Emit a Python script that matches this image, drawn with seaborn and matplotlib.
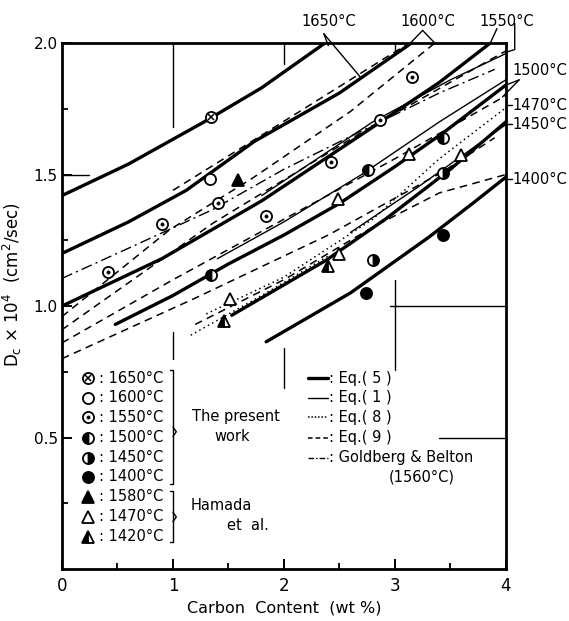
import matplotlib
matplotlib.use("Agg")
import matplotlib.pyplot as plt
import seaborn as sns

# ---------------- data ----------------
# Eq.(5) thick solid curves
eq5_1650_x = [0.0, 0.6, 1.28, 1.8, 2.37]
eq5_1650_y = [1.42, 1.54, 1.70, 1.83, 2.0]
eq5_1600_x = [0.0, 0.6, 1.12, 1.73, 2.5, 3.15]
eq5_1600_y = [1.20, 1.32, 1.44, 1.625, 1.81, 2.0]
eq5_1550_x = [0.0, 0.9, 1.8, 2.8, 3.4, 3.86]
eq5_1550_y = [1.0, 1.18, 1.40, 1.68, 1.85, 2.0]
eq5_1500_x = [0.48, 1.0, 1.5, 2.0, 2.5, 3.0, 3.44, 4.0]
eq5_1500_y = [0.93, 1.04, 1.16, 1.27, 1.39, 1.53, 1.66, 1.84]
eq5_1450_x = [1.53, 2.38, 2.92, 3.5, 4.0]
eq5_1450_y = [0.965, 1.174, 1.332, 1.52, 1.70]
eq5_1400_x = [1.84, 2.6, 3.31, 3.7, 4.0]
eq5_1400_y = [0.864, 1.05, 1.263, 1.39, 1.49]

# Eq.(1) thin solid curves
eq1_1550_x = [1.8, 2.8, 3.5, 4.0]
eq1_1550_y = [1.42, 1.70, 1.86, 1.96]
eq1_1500_x = [1.4, 2.0, 2.7, 3.4, 4.0]
eq1_1500_y = [1.18, 1.32, 1.50, 1.70, 1.86]
eq1_1450_x = [2.6, 3.2, 3.7, 4.0]
eq1_1450_y = [1.28, 1.45, 1.60, 1.69]

# Eq.(8) dotted curves
eq8_1470_x = [1.3, 2.0, 2.8, 3.4, 4.0]
eq8_1470_y = [0.97, 1.11, 1.33, 1.56, 1.754]
eq8_1420_x = [1.16, 1.8, 2.4]
eq8_1420_y = [0.889, 1.04, 1.19]

# Eq.(9) dashed curves
eq9_1650_x = [1.0, 1.725, 2.9, 3.13]
eq9_1650_y = [1.44, 1.63, 1.94, 2.0]
eq9_1600_x = [0.0, 0.97, 1.73, 2.6, 3.36]
eq9_1600_y = [0.96, 1.29, 1.49, 1.74, 2.0]
eq9_1550_x = [0.0, 1.36, 2.7, 4.0]
eq9_1550_y = [0.91, 1.315, 1.66, 1.97]
eq9_1500_x = [0.0, 1.0, 2.0, 3.0, 4.0]
eq9_1500_y = [0.86, 1.10, 1.33, 1.56, 1.80]
eq9_1450_x = [0.0, 1.2, 2.4, 3.43, 3.9]
eq9_1450_y = [0.80, 1.03, 1.27, 1.51, 1.64]
eq9_1400_x = [1.2, 2.0, 2.8, 3.4, 4.0]
eq9_1400_y = [0.93, 1.10, 1.30, 1.43, 1.50]

# Goldberg & Belton (1560 C) dash-dot
gb_x = [0.0, 0.6, 1.35, 2.0, 2.72, 3.4, 3.9]
gb_y = [1.105, 1.22, 1.365, 1.52, 1.67, 1.81, 1.90]

# measured points (the present work)
p1650_x = [1.34]
p1650_y = [1.72]
p1600_x = [1.33]
p1600_y = [1.484]
p1550_x = [0.41, 0.90, 1.41, 1.84, 2.42, 2.87, 3.15]
p1550_y = [1.13, 1.313, 1.39, 1.341, 1.547, 1.709, 1.87]
p1500_x = [1.34, 2.76, 3.43]
p1500_y = [1.117, 1.516, 1.64]
p1450_x = [2.80, 3.43]
p1450_y = [1.174, 1.506]
p1400_x = [2.74, 3.43]
p1400_y = [1.05, 1.269]
# Hamada et al.
h1580_x = [1.59]
h1580_y = [1.478]
h1470_x = [1.51, 2.50, 2.49, 3.13, 3.60]
h1470_y = [1.025, 1.197, 1.408, 1.579, 1.573]
h1420_x = [1.46, 2.40]
h1420_y = [0.943, 1.151]

# labels
xtick_vals = [0, 1, 2, 3, 4]
ytick_vals = [0.5, 1.0, 1.5, 2.0]
ytick_text = ["0.5", "1.0", "1.5", "2.0"]
top_labels = ["1650°C", "1600°C", "1550°C"]
top_label_x = [2.40, 3.30, 4.01]
right_labels = ["1500°C", "1470°C", "1450°C", "1400°C"]
right_label_y = [1.896, 1.764, 1.692, 1.483]
left_legend_temps = ["1650°C", "1600°C", "1550°C", "1500°C", "1450°C", "1400°C",
                     "1580°C", "1470°C", "1420°C"]
right_legend_names = ["Eq.( 5 )", "Eq.( 1 )", "Eq.( 8 )", "Eq.( 9 )", "Goldberg & Belton"]

# ---------------- figure ----------------
sns.set_theme(style="white")
plt.rcParams["font.family"] = ["DejaVu Sans"]
plt.rcParams["mathtext.default"] = "regular"

fig = plt.figure(figsize=(5.69, 6.21), dpi=100)
ax = fig.add_axes([0.109, 0.0837, 0.780, 0.847])
ax.set_xlim(0, 4)
ax.set_ylim(0, 2)

K = "black"
THICK, THIN = 2.4, 1.0
DASH = (0, (5, 3.5))
DOT = (0, (1, 2.2))
DASHDOT = (0, (8, 3, 1.5, 3))


def curve(x, y, lw, ls):
    sns.lineplot(x=x, y=y, ax=ax, color=K, lw=lw, linestyle=ls, sort=False,
                 estimator=None, legend=False, zorder=2)


for x, y in [(eq5_1650_x, eq5_1650_y), (eq5_1600_x, eq5_1600_y),
             (eq5_1550_x, eq5_1550_y), (eq5_1500_x, eq5_1500_y),
             (eq5_1450_x, eq5_1450_y), (eq5_1400_x, eq5_1400_y)]:
    curve(x, y, THICK, "-")
for x, y in [(eq1_1550_x, eq1_1550_y), (eq1_1500_x, eq1_1500_y),
             (eq1_1450_x, eq1_1450_y)]:
    curve(x, y, THIN, "-")
for x, y in [(eq8_1470_x, eq8_1470_y), (eq8_1420_x, eq8_1420_y)]:
    curve(x, y, 1.1, DOT)
for x, y in [(eq9_1650_x, eq9_1650_y), (eq9_1600_x, eq9_1600_y),
             (eq9_1550_x, eq9_1550_y), (eq9_1500_x, eq9_1500_y),
             (eq9_1450_x, eq9_1450_y), (eq9_1400_x, eq9_1400_y)]:
    curve(x, y, 1.1, DASH)
curve(gb_x, gb_y, 1.0, DASHDOT)

# partial grid fragments of the original drawing
frag = dict(color=K, lw=1.0, zorder=1)
ax.plot([1, 1], [2.0, 1.68], **frag)
ax.plot([2, 2], [2.0, 1.92], **frag)
ax.plot([3, 3], [2.0, 1.96], **frag)
ax.plot([1, 1], [0.90, 0.80], **frag)
ax.plot([2, 2], [0.84, 0.69], **frag)
ax.plot([3, 3], [1.10, 0.755], **frag)
ax.plot([0, 0.24], [1.5, 1.5], **frag)
ax.plot([2.96, 4], [1.0, 1.0], **frag)
ax.plot([3.40, 4], [0.5, 0.5], **frag)

MS = 8
MEW = 1.3


def pts(x, y, marker, **kw):
    base = dict(ls="", marker=marker, ms=MS, mec=K, mew=MEW, zorder=6, clip_on=False)
    base.update(kw)
    ax.plot(x, y, **base)


def sym_1650(x, y):
    pts(x, y, "o", mfc="white")
    pts(x, y, "x", ms=4.2, mew=1.1)


def sym_1600(x, y):
    pts(x, y, "o", mfc="white")


def sym_1550(x, y):
    pts(x, y, "o", mfc="white")
    pts(x, y, "o", ms=2.3, mfc=K, mew=0.5, zorder=7)


def sym_1500(x, y):
    pts(x, y, "o", fillstyle="left", mfc=K, markerfacecoloralt="white")


def sym_1450(x, y):
    pts(x, y, "o", fillstyle="right", mfc=K, markerfacecoloralt="white")


def sym_1400(x, y):
    pts(x, y, "o", mfc=K)


def sym_1580(x, y):
    pts(x, y, "^", mfc=K)


def sym_1470(x, y):
    pts(x, y, "^", mfc="white")


def sym_1420(x, y):
    pts(x, y, "^", fillstyle="left", mfc=K, markerfacecoloralt="white")


sym_1650(p1650_x, p1650_y)
sym_1600(p1600_x, p1600_y)
sym_1550(p1550_x, p1550_y)
sym_1500(p1500_x, p1500_y)
sym_1450(p1450_x, p1450_y)
sym_1400(p1400_x, p1400_y)
sym_1580(h1580_x, h1580_y)
sym_1470(h1470_x, h1470_y)
sym_1420(h1420_x, h1420_y)

# ---------------- axes styling ----------------
for s in ax.spines.values():
    s.set_color(K)
    s.set_linewidth(2.0)
ax.set_xticks(xtick_vals)
ax.set_xticklabels([str(v) for v in xtick_vals], fontsize=12)
ax.set_xticks([0.5, 1.5, 2.5, 3.5], minor=True)
ax.set_yticks(ytick_vals)
ax.set_yticklabels(ytick_text, fontsize=11)
ax.set_yticks([0.25, 0.75, 1.25, 1.75], minor=True)
ax.tick_params(axis="both", which="major", direction="in", length=7, width=1.4,
               color=K, labelcolor=K, bottom=True, left=True, top=False, right=False)
ax.tick_params(axis="both", which="minor", direction="in", length=4, width=1.3,
               color=K, bottom=True, left=True, top=False, right=False)
ax.tick_params(axis="x", which="major", pad=6)
ax.tick_params(axis="y", which="major", pad=3)
ax.set_xlabel("Carbon  Content  (wt %)", fontsize=11.5, color=K, labelpad=4)
ax.set_ylabel(r"D$_c$ × 10$^4$  (cm$^2$/sec)", fontsize=12, color=K, labelpad=2)
ax.yaxis.set_label_coords(-0.085, 0.54)

# ---------------- temperature labels ----------------
TF = 10.5
for t, xx in zip(top_labels, top_label_x):
    ax.text(xx, 2.083, t, ha="center", va="center", fontsize=TF, color=K, clip_on=False)
lead = dict(color=K, lw=1.0, clip_on=False, zorder=3)
ax.plot([2.36, 2.40], [2.035, 1.99], **lead)
ax.plot([2.36, 2.69], [2.035, 1.87], **lead)
ax.plot([3.14, 3.25, 3.36], [2.0, 2.048, 2.0], **lead)
ax.plot([3.92, 3.86], [2.055, 2.0], **lead)
ax.plot([4.08, 4.08, 4.0], [2.075, 1.975, 1.965], **lead)

for t, yy in zip(right_labels, right_label_y):
    ax.text(4.06, yy, t, ha="left", va="center", fontsize=TF, color=K, clip_on=False)
ax.plot([4.12, 3.97], [1.86, 1.835], **lead)
ax.plot([4.12, 3.97], [1.86, 1.795], **lead)
ax.plot([4.0, 4.06], [1.764, 1.764], **lead)
ax.plot([3.98, 4.06], [1.692, 1.692], **lead)
ax.plot([3.98, 4.06], [1.483, 1.483], **lead)

# ---------------- in-plot legend (left) ----------------
rows = [0.725, 0.652, 0.578, 0.500, 0.424, 0.350, 0.274, 0.198, 0.122]
sym_funcs = [sym_1650, sym_1600, sym_1550, sym_1500, sym_1450, sym_1400,
             sym_1580, sym_1470, sym_1420]
for f, t, yy in zip(sym_funcs, left_legend_temps, rows):
    f([0.235], [yy])
    ax.text(0.33, yy, ": " + t, ha="left", va="center", fontsize=TF, color=K)


def bracket(y0, y1, tip):
    xb = 1.0
    ax.plot([0.97, xb, xb, 0.97], [y0, y0, y1, y1], color=K, lw=1.0)
    ax.plot([xb, 1.03, xb], [tip + 0.018, tip, tip - 0.018], color=K, lw=1.0)


bracket(0.757, 0.323, 0.522)
bracket(0.298, 0.104, 0.198)
ax.text(1.57, 0.579, "The present", ha="center", va="center", fontsize=TF, color=K)
ax.text(1.53, 0.503, "work", ha="center", va="center", fontsize=TF, color=K)
ax.text(1.44, 0.240, "Hamada", ha="center", va="center", fontsize=TF, color=K)
ax.text(1.68, 0.165, "et  al.", ha="center", va="center", fontsize=TF, color=K)

# ---------------- in-plot legend (right) ----------------
rrows = [0.725, 0.652, 0.578, 0.500, 0.424]
rstyles = [(THICK, "-"), (THIN, "-"), (1.1, (0, (1, 1.2))), (1.1, (0, (3, 2))),
           (1.0, (0, (4, 1.5, 1, 1.5)))]
for (lw, ls), nm, yy in zip(rstyles, right_legend_names, rrows):
    ax.plot([2.22, 2.40], [yy, yy], color=K, lw=lw, linestyle=ls)
    ax.text(2.41, yy, ": " + nm, ha="left", va="center", fontsize=TF, color=K)
ax.text(3.24, 0.350, "(1560°C)", ha="center", va="center", fontsize=TF, color=K)

fig.savefig("out.png", dpi=100, facecolor="white")
